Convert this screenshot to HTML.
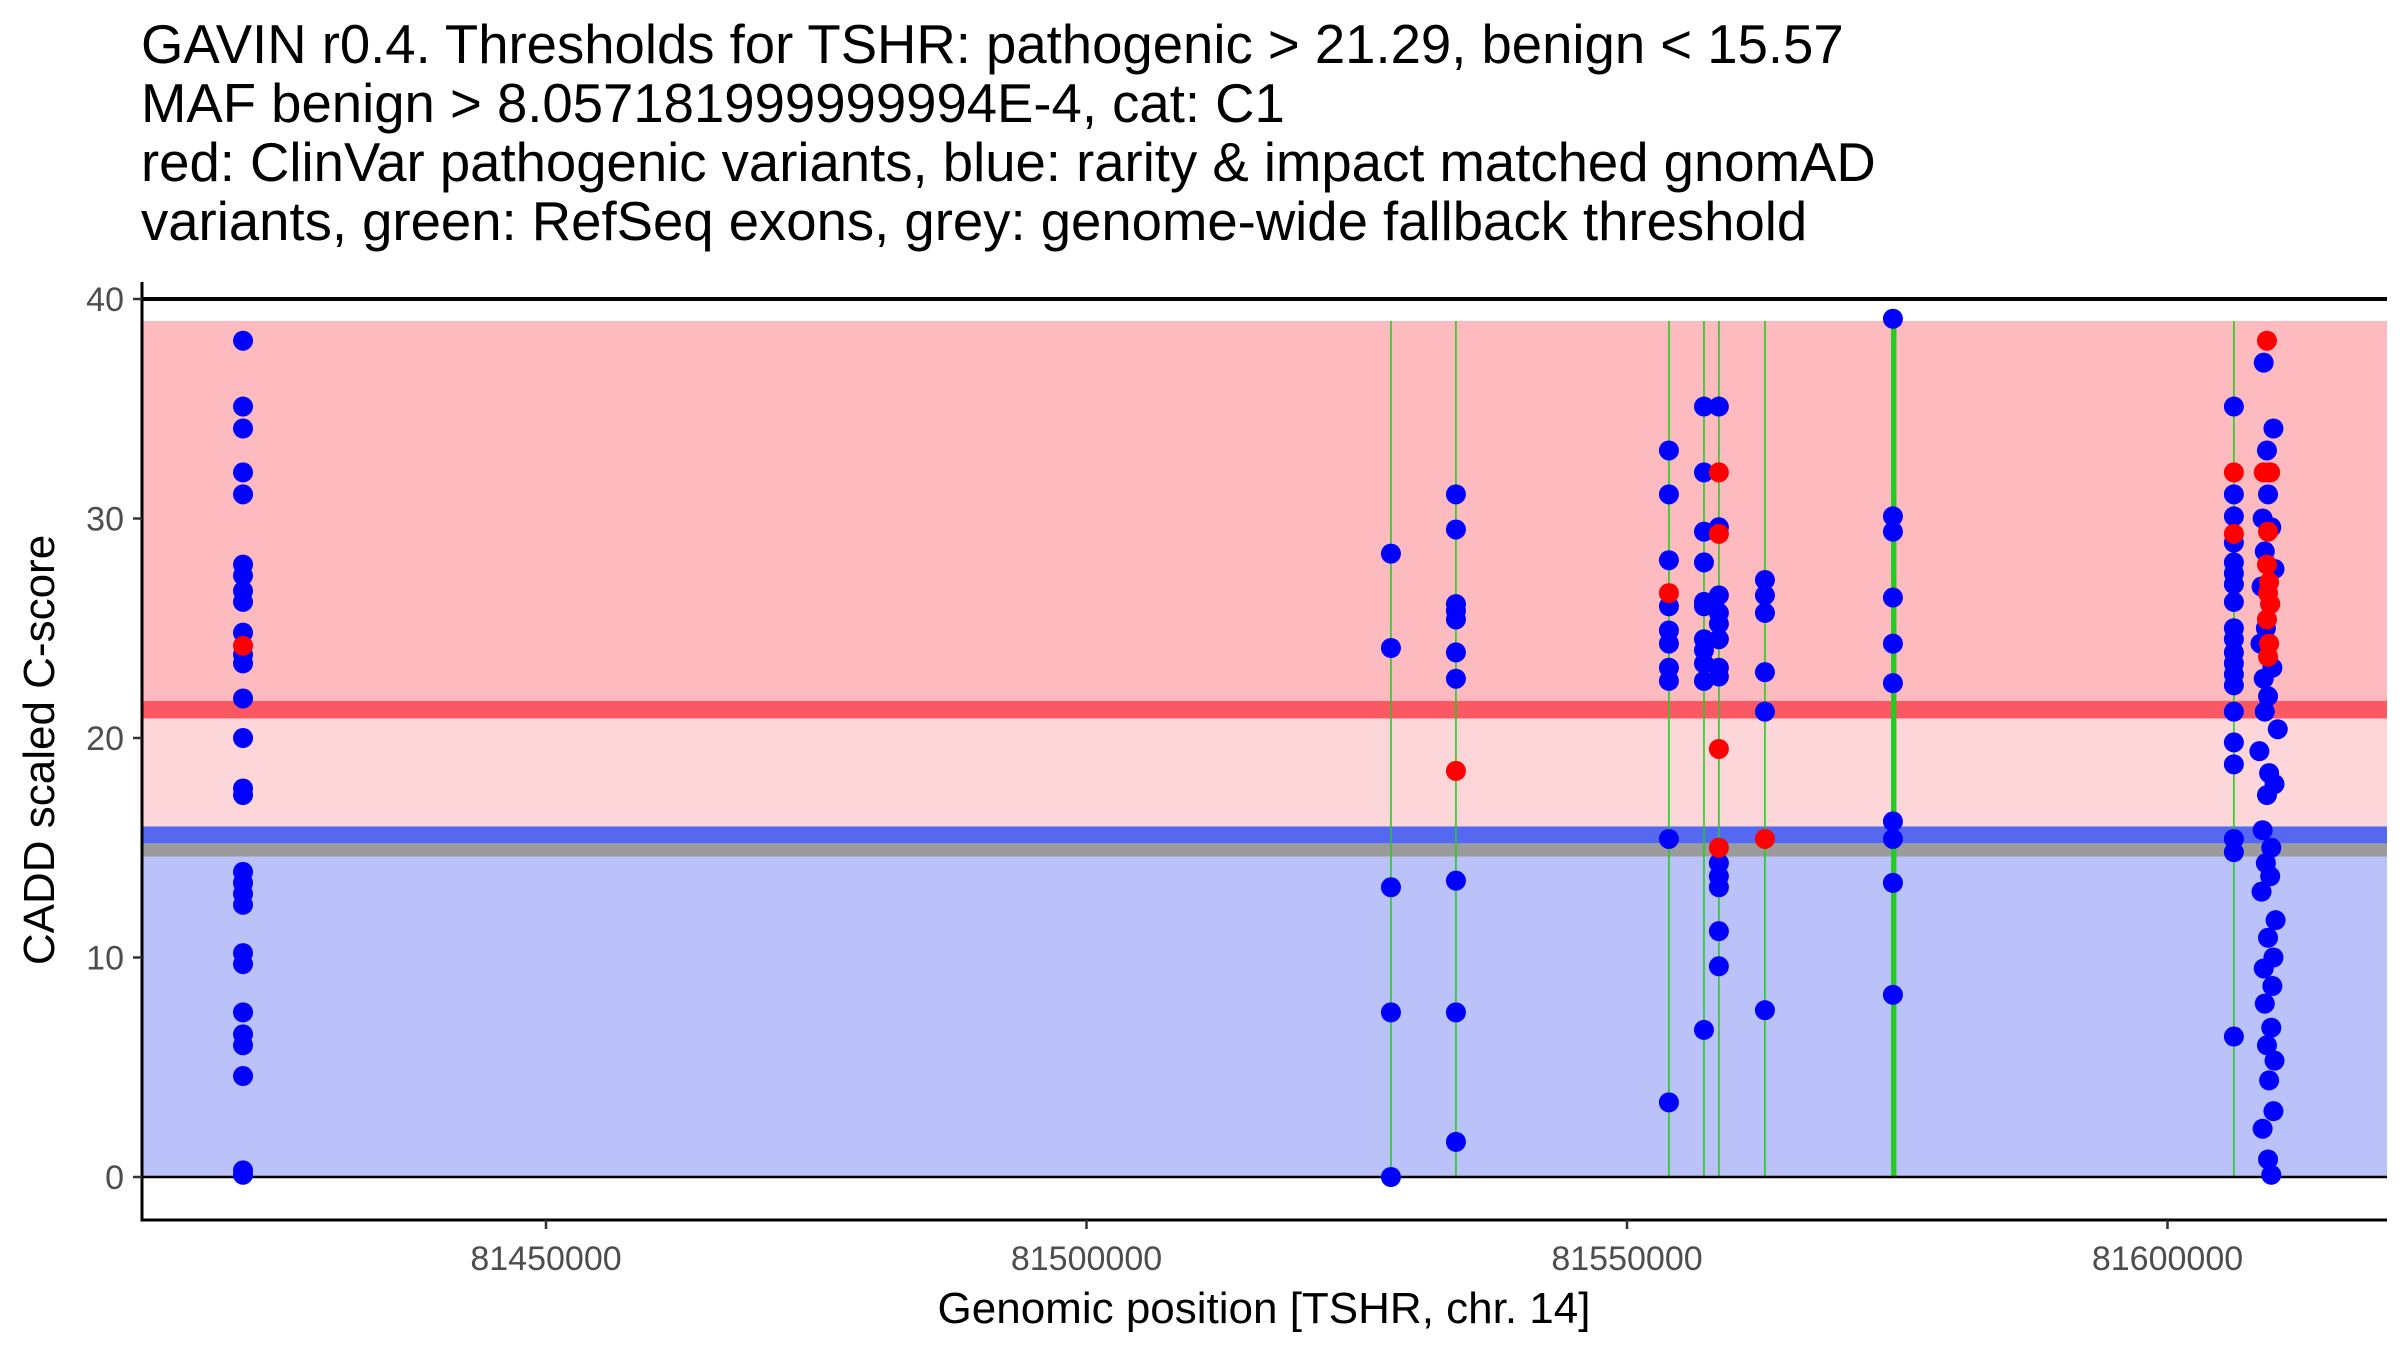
<!DOCTYPE html>
<html><head><meta charset="utf-8"><style>
html,body{margin:0;padding:0;background:#fff;}
svg{display:block;font-family:"Liberation Sans",Arial,sans-serif;}
</style></head><body>
<svg id="chart" width="2400" height="1350" viewBox="0 0 2400 1350">
<g font-size="54.5" fill="#000">
<text x="141" y="63">GAVIN r0.4. Thresholds for TSHR: pathogenic &gt; 21.29, benign &lt; 15.57</text>
<text x="141" y="122">MAF benign &gt; 8.057181999999994E-4, cat: C1</text>
<text x="141" y="181">red: ClinVar pathogenic variants, blue: rarity &amp; impact matched gnomAD</text>
<text x="141" y="240">variants, green: RefSeq exons, grey: genome-wide fallback threshold</text>
</g>
<g id="bands"></g>
<g id="exons"></g>
<g id="refs"></g>
<g id="points"></g>
<g id="axes"></g>
<text x="1264" y="1323" font-size="44" text-anchor="middle">Genomic position [TSHR, chr. 14]</text>
<text transform="translate(54,750) rotate(-90)" font-size="44" text-anchor="middle">CADD scaled C-score</text>
</svg>
<script>
const xTicks=[81450000,81500000,81550000,81600000];
const yTicks=[0,10,20,30,40];
const pathoThreshold=21.29;
const benignThreshold=15.57;
const fallbackThreshold=14.9;
const exonStart=[81528163,81534175,81553878,81557120,81558500,81562760,81574500,81574620,81606140];
const exonEnd  =[81528180,81534192,81553895,81557137,81558517,81562777,81574540,81575000,81606157];
const blueX=[
81421972,81421972,81421972,81421972,81421972,81421972,81421972,81421972,81421972,81421972,81421972,81421972,81421972,81421972,81421972,81421972,81421972,81421972,81421972,81421972,81421972,81421972,81421972,81421972,81421972,81421972,81421972,81421972,
81528163,81528163,81528163,81528163,81528163,
81534175,81534175,81534175,81534175,81534175,81534175,81534175,81534175,81534175,81534175,
81553878,81553878,81553878,81553878,81553878,81553878,81553878,81553878,81553878,81553878,
81557120,81557120,81557120,81557120,81557120,81557120,81557120,81557120,81557120,81557120,81557120,
81558500,81558500,81558500,81558500,81558500,81558500,81558500,81558500,81558500,81558500,81558500,81558500,81558500,
81562760,81562760,81562760,81562760,81562760,81562760,
81574600,81574600,81574600,81574600,81574600,81574600,81574600,81574600,81574600,81574600,
81606140,81606140,81606140,81606140,81606140,81606140,81606140,81606140,81606140,81606140,81606140,81606140,81606140,81606140,81606140,81606140,81606140,81606140,81606140,81606140,
81608900,81609800,81609200,81609400,81609300,81608800,81609600,81609000,81609900,81608700,81609500,81609100,81608600,81609700,81608900,81609300,81609000,81610200,81608500,81609400,81609900,81609200,81608800,81609600,81609100,81609500,81608700,81610000,81609300,81609800,81608900,81609700,81609000,81609600,81609200,81609900,81609400,81609800,81608800,81609300,81609600
];
const blueY=[
38.1,35.1,34.1,32.1,31.1,27.9,27.4,26.7,26.2,24.8,23.8,23.4,21.8,20.0,17.7,17.4,13.9,13.4,12.9,12.4,10.2,9.7,7.5,6.5,6.0,4.6,0.3,0.1,
28.4,24.1,13.2,7.5,0.0,
31.1,29.5,26.1,25.8,25.4,23.9,22.7,13.5,7.5,1.6,
33.1,31.1,28.1,26.0,24.9,24.3,23.2,22.6,15.4,3.4,
35.1,32.1,29.4,28.0,26.2,26.0,24.5,24.0,23.4,22.6,6.7,
35.1,29.6,26.5,25.7,25.2,24.5,23.2,22.8,14.3,13.7,13.2,11.2,9.6,
27.2,26.5,25.7,23.0,21.2,7.6,
39.1,30.1,29.4,26.4,24.3,22.5,16.2,15.4,13.4,8.3,
35.1,31.1,30.1,28.9,28.0,27.5,27.0,26.2,25.0,24.5,23.9,23.4,22.9,22.4,21.2,19.8,18.8,15.4,14.8,6.4,
37.1,34.1,33.1,32.1,31.1,30.0,29.6,28.5,27.7,26.9,26.1,25.0,24.3,23.2,22.7,21.9,21.2,20.4,19.4,18.4,17.9,17.4,15.8,15.0,14.3,13.7,13.0,11.7,10.9,10.0,9.5,8.7,7.9,6.8,6.0,5.3,4.4,3.0,2.2,0.8,0.1
];
const redX=[81421972,81534175,81553878,81558500,81558500,81558500,81558500,81562760,81606140,81606140,
81609200,81608900,81609500,81609300,81609200,81609400,81609300,81609500,81609200,81609400,81609300];
const redY=[24.2,18.5,26.6,32.1,29.3,19.5,15.0,15.4,32.1,29.3,
38.1,32.1,32.1,29.4,27.9,27.1,26.6,26.1,25.4,24.3,23.7];

const NS="http://www.w3.org/2000/svg";
const L=142,R=2387,T=282,B=1220;
const x=p=>546+(p-81450000)*540.5/50000;
const y=v=>1177-v*21.95;
function mk(parent,tag,attrs){const e=document.createElementNS(NS,tag);for(const k in attrs)e.setAttribute(k,attrs[k]);document.getElementById(parent).appendChild(e);return e;}

let e;
e=mk('bands','rect',{x:L,y:y(39),width:R-L,height:y(pathoThreshold+0.4)-y(39),fill:'#fdbbc0'});


e=mk('bands','rect',{x:L,y:y(pathoThreshold-0.4),width:R-L,height:y(benignThreshold+0.4)-y(pathoThreshold-0.4),fill:'#fdd6da'});


e=mk('bands','rect',{x:L,y:y(fallbackThreshold-0.3),width:R-L,height:y(0)-y(fallbackThreshold-0.3),fill:'#bbc1f9'});


e=mk('bands','rect',{x:L,y:y(pathoThreshold+0.4),width:R-L,height:y(pathoThreshold-0.4)-y(pathoThreshold+0.4),fill:'#fa5964'});


e=mk('bands','rect',{x:L,y:y(fallbackThreshold+0.3),width:R-L,height:y(fallbackThreshold-0.3)-y(fallbackThreshold+0.3),fill:'#9b9b9b'});


e=mk('bands','rect',{x:L,y:y(benignThreshold+0.4),width:R-L,height:y(fallbackThreshold+0.3)-y(benignThreshold+0.4),fill:'#5468f1'});



for(let i=0;i<exonStart.length;i++){
  const x0=x(exonStart[i]),x1=x(exonEnd[i]);
  e=mk('exons','rect',{x:x0-0.8,y:y(39),width:Math.max(1.6,x1-x0),height:y(0)-y(39),fill:'#22cc22'});
  
  
}
e=mk('refs','line',{x1:L,x2:R,y1:y(40),y2:y(40),stroke:'#000','stroke-width':4});


e=mk('refs','line',{x1:L,x2:R,y1:y(0),y2:y(0),stroke:'#000','stroke-width':2.5});



for(let i=0;i<blueX.length;i++){
  e=mk('points','circle',{cx:x(blueX[i]),cy:y(blueY[i]),r:10,fill:'#0000ff'});
  
  
}
for(let i=0;i<redX.length;i++){
  e=mk('points','circle',{cx:x(redX[i]),cy:y(redY[i]),r:10,fill:'#ff0000'});
  
  
}

e=mk('axes','line',{x1:L,x2:L,y1:T,y2:B+1.5,stroke:'#000','stroke-width':3});


e=mk('axes','line',{x1:L-1.5,x2:R,y1:B,y2:B,stroke:'#000','stroke-width':3});


yTicks.forEach(v=>{
  e=mk('axes','line',{x1:L-9,x2:L,y1:y(v),y2:y(v),stroke:'#333','stroke-width':2.5});
  
  
  e=mk('axes','text',{x:L-18,y:y(v)+12,'font-size':34,'text-anchor':'end',fill:'#4d4d4d'});
  e.textContent=v;
  
  
});
xTicks.forEach(p=>{
  e=mk('axes','line',{x1:x(p),x2:x(p),y1:B,y2:B+9,stroke:'#333','stroke-width':2.5});
  
  
  e=mk('axes','text',{x:x(p),y:B+50,'font-size':34,'text-anchor':'middle',fill:'#4d4d4d'});
  e.textContent=p;
  
  
});
</script>
</body></html>
